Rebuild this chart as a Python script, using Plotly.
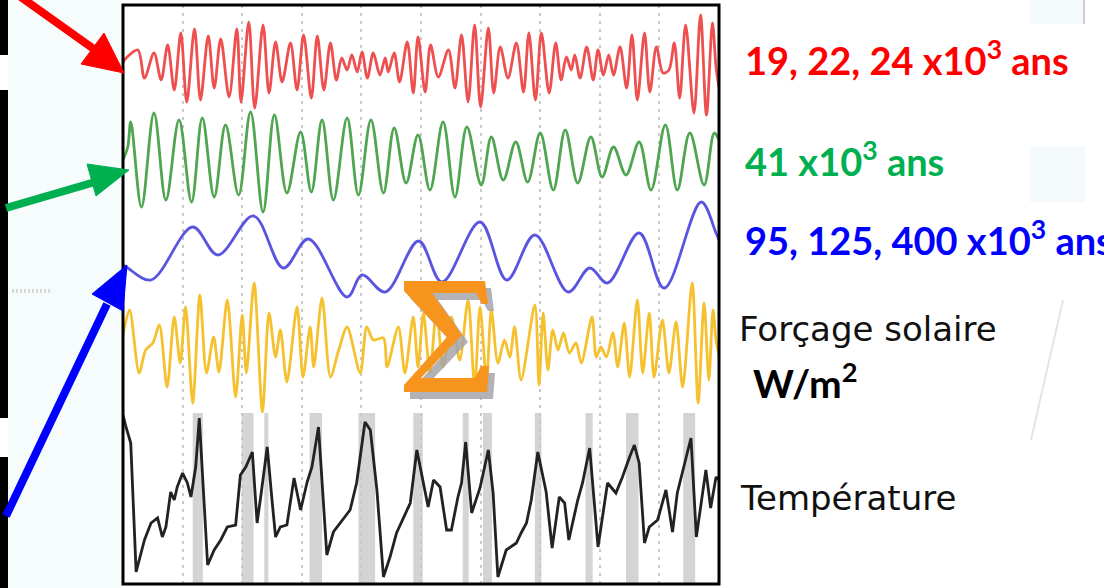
import plotly.graph_objects as go

# ---------------- data (time in kyr, values = anomalies in display units) ----------------
# Precession band (19, 22, 24 kyr)
prec_t = [0, 7, 25, 36, 52, 64, 75, 86, 97, 107, 120, 130, 143, 153, 164, 178, 191, 198, 211, 221,
          235, 245, 256, 267, 281, 292, 303, 316, 326, 337, 348, 358, 367, 376, 384, 393, 401, 410,
          420, 431, 440, 445, 455, 464, 477, 487, 495, 507, 516, 529, 546, 557, 568, 579, 590, 600,
          613, 622, 633, 646, 660, 672, 681, 692, 702, 715, 726, 735, 744, 752, 758, 767, 778, 789,
          797, 806, 815, 823, 834, 845, 854, 863, 875, 884, 895, 906, 916, 925, 934, 944, 958, 969,
          979, 989, 995, 1000]
prec_v = [0, 5, 12, -16, 9, -18, 17, -28, 29, -40, 33, -38, 26, -26, 23, -35, 33, -40, 40, -46,
          37, -31, 20, -20, 19, -28, 27, -36, 26, -28, 19, -18, 4, -8, 7, -10, 10, -16,
          9, -13, 4, -10, 9, -20, 20, -31, 25, -30, 17, -15, 12, -26, 27, -40, 37, -45,
          34, -31, 15, -16, 19, -30, 29, -38, 29, -31, 19, -18, 5, -8, 7, -16, 15, -18,
          12, -13, 7, -13, 15, -26, 27, -38, 29, -30, 15, -11, -8, 19, -36, 37, -51, 47,
          -53, 39, -5, -25]

# Obliquity (41 kyr)
obl_t = [0, 8, 13, 31, 52, 72, 94, 115, 133, 153, 172, 194, 214, 235, 254, 275, 298, 316, 334, 353,
         376, 395, 416, 437, 455, 475, 495, 515, 537, 557, 577, 601, 618, 638, 659, 679, 700, 722,
         742, 763, 785, 804, 823, 844, 866, 886, 910, 930, 951, 975, 992, 1000]
obl_v = [0, 13, 38, -47, 47, -40, 40, -42, 42, -37, 35, -35, 48, -52, 45, -33, 28, -32, 40, -40,
         42, -35, 40, -33, 32, -23, 25, -30, 38, -37, 33, -25, 23, -20, 18, -22, 27, -30,
         30, -23, 23, -17, 13, -15, 18, -30, 35, -30, 27, -25, 27, 20]

# Eccentricity (95, 125, 400 kyr)
ecc_t = [0, 8, 47, 117, 159, 219, 269, 311, 376, 401, 440, 496, 535, 599, 644, 691, 747, 783, 813,
         866, 908, 970, 995, 1000]
ecc_v = [-10, -13, -25, 28, 0, 39, -13, 16, -42, -20, -37, 14, -27, 33, -25, 20, -37, -13, -28,
         22, -33, 53, 22, 15]

# Solar forcing (sum)
sol_t = [0, 11, 27, 38, 50, 61, 74, 86, 96, 105, 117, 129, 140, 152, 161, 175, 189, 200, 207, 220,
         234, 245, 256, 264, 275, 292, 302, 314, 320, 334, 348, 362, 376, 398, 409, 420, 437, 443,
         462, 473, 487, 495, 504, 515, 526, 537, 551, 565, 579, 590, 599, 610, 618, 629, 640, 649,
         657, 668, 691, 698, 705, 713, 721, 730, 739, 749, 760, 769, 787, 794, 802, 811, 822, 830,
         841, 850, 863, 872, 883, 891, 905, 916, 928, 939, 955, 965, 975, 983, 990, 995, 1000]
sol_v = [10, 35, -28, -5, 2, 20, -42, 28, -18, 38, -58, 50, -28, 8, -27, 45, -52, 30, -28, 62,
         -67, 32, -12, 15, -37, 38, -32, 18, -22, 47, -32, -5, 18, -28, 18, 5, 7, -22,
         18, -28, 28, -22, 32, -28, 35, -22, 28, -15, 45, -42, 38, -35, 35, -18, 5, -12,
         18, -35, 40, -40, 32, -25, 15, -5, 12, -8, 2, -18, 28, -12, -2, -12, 12, -22,
         22, -32, 45, -28, 32, -32, 25, -28, 23, -42, 62, -58, 42, -35, 35, 5, -10]

# Temperature
temp_t = [0, 5, 13, 22, 36, 47, 58, 66, 72, 80, 86, 91, 100, 108, 114, 122, 128, 142, 153, 164,
          175, 189, 197, 206, 217, 225, 231, 242, 250, 256, 264, 275, 287, 298, 309, 317, 328, 342,
          353, 365, 381, 392, 406, 415, 426, 437, 448, 459, 471, 482, 493, 501, 512, 521, 532, 543,
          551, 562, 568, 575, 585, 599, 613, 621, 629, 643, 660, 668, 677, 685, 696, 710, 720, 732,
          741, 748, 763, 771, 783, 797, 813, 827, 838, 850, 858, 866, 875, 883, 897, 911, 922, 930,
          942, 953, 962, 978, 986, 995, 1000]
temp_v = [85, 73, 57, -72, -40, -23, -18, -37, -27, 8, 0, 13, 27, 17, 3, 33, 82, -65, -50, -40,
          -27, -25, 25, 33, 48, -23, 3, 53, 0, -37, -27, -25, 22, -10, 18, 33, 73, -55,
          -32, -23, -10, 17, 78, 70, 10, -77, -57, -33, -17, -3, 50, 27, -7, 20, 13, -30,
          -30, 3, 17, 58, -13, 12, 50, 7, -77, -50, -43, -33, -23, 0, 48, 8, -48, 3,
          -3, -40, 0, 17, 52, -47, 17, 7, 23, 43, 55, 37, -43, -27, -20, 10, -32, 7,
          37, 62, -37, 30, -8, 23, 20]

# Shaded intervals in the temperature panel (kyr)
band_start = [117, 199, 237, 313, 395, 487, 570, 604, 691, 776, 844, 940]
band_end = [134, 219, 244, 334, 423, 503, 580, 619, 702, 788, 865, 960]

# Labels
lab_prec = "19, 22, 24 x10<sup>3</sup> ans"
lab_obl = "41 x10<sup>3</sup> ans"
lab_ecc = "95, 125, 400 x10<sup>3</sup> ans"
lab_sol = "Forçage solaire"
lab_unit = "W/m<sup>2</sup>"
lab_temp = "Température"

# ---------------- layout helpers ----------------
W, H = 1104, 588
L, R, T, B = 123, 719, 5, 584      # plot box (pixels)
YSPAN = B - T


def px(x):
    return (x - L) / (R - L)


def py(y):
    return (B - y) / (B - T)


def path(points):
    s = "M " + " L ".join(f"{px(x):.5f},{py(y):.5f}" for x, y in points) + " Z"
    return s


# vertical offsets of the stacked curves (display units, 0 = bottom of box)
OFF_PREC, OFF_OBL, OFF_ECC, OFF_SOL, OFF_TEMP = 522, 424, 329, 239, 84
BAND_TOP = 171

fig = go.Figure()

fig.add_trace(go.Scatter(x=prec_t, y=[OFF_PREC + v for v in prec_v], mode="lines",
                         line=dict(color="#ee5050", width=2.8, shape="spline", smoothing=0.9),
                         hoverinfo="skip"))
fig.add_trace(go.Scatter(x=obl_t, y=[OFF_OBL + v for v in obl_v], mode="lines",
                         line=dict(color="#4fa550", width=2.8, shape="spline", smoothing=1.0),
                         hoverinfo="skip"))
fig.add_trace(go.Scatter(x=ecc_t, y=[OFF_ECC + v for v in ecc_v], mode="lines",
                         line=dict(color="#5a55e0", width=2.8, shape="spline", smoothing=1.0),
                         hoverinfo="skip"))
fig.add_trace(go.Scatter(x=sol_t, y=[OFF_SOL + v for v in sol_v], mode="lines",
                         line=dict(color="#f5c12e", width=2.8, shape="spline", smoothing=0.8),
                         hoverinfo="skip"))
fig.add_trace(go.Scatter(x=temp_t, y=[OFF_TEMP + v for v in temp_v], mode="lines",
                         line=dict(color="#222222", width=2.8),
                         hoverinfo="skip"))

shapes = []
for a, b in zip(band_start, band_end):
    shapes.append(dict(type="rect", xref="x", yref="y", x0=a, x1=b, y0=0, y1=BAND_TOP,
                       fillcolor="rgba(205,205,205,0.85)", line=dict(width=0), layer="below"))

# plot box
shapes.append(dict(type="rect", xref="paper", yref="paper", x0=0, x1=1, y0=0, y1=1,
                   line=dict(color="black", width=3), layer="above"))

# left background and black bars
shapes.append(dict(type="rect", xref="paper", yref="paper", x0=px(8), x1=px(121.5), y0=py(588), y1=py(0),
                   fillcolor="#f6fbfc", line=dict(width=0), layer="below"))
for y0, y1 in [(0, 55), (90, 418), (457, 588)]:
    shapes.append(dict(type="rect", xref="paper", yref="paper", x0=px(0), x1=px(8), y0=py(y1), y1=py(y0),
                       fillcolor="black", line=dict(width=0), layer="above"))
shapes.append(dict(type="line", xref="paper", yref="paper", x0=px(12), x1=px(52), y0=py(291), y1=py(291),
                   line=dict(color="#d8d8d8", width=4, dash="2px,2px"), layer="above"))

# faint elements on the right
shapes.append(dict(type="rect", xref="paper", yref="paper", x0=px(1030), x1=px(1084), y0=py(24), y1=py(0),
                   fillcolor="#f4fafc", line=dict(width=0), layer="below"))
shapes.append(dict(type="line", xref="paper", yref="paper", x0=px(1084), x1=px(1084), y0=py(24), y1=py(0),
                   line=dict(color="#cfcfcf", width=2), layer="above"))
shapes.append(dict(type="rect", xref="paper", yref="paper", x0=px(1030), x1=px(1085), y0=py(202), y1=py(146),
                   fillcolor="#f4fafc", line=dict(width=0), layer="below"))
shapes.append(dict(type="line", xref="paper", yref="paper", x0=px(1063), x1=px(1031), y0=py(300), y1=py(440),
                   line=dict(color="#e4e4e4", width=2), layer="above"))

# arrows
arrows = [
    ("#ff0000", (18, -5), (98, 52), [(124, 73), (81, 64), (104, 33)]),
    ("#00b050", (6, 208), (95, 182), [(129, 170), (87, 164), (96, 196)]),
    ("#0000ff", (6, 516), (107, 304), [(127, 265), (92, 294), (123, 311)]),
]
for col, p0, p1, head in arrows:
    shapes.append(dict(type="line", xref="paper", yref="paper", x0=px(p0[0]), y0=py(p0[1]),
                       x1=px(p1[0]), y1=py(p1[1]), line=dict(color=col, width=8), layer="above"))
    shapes.append(dict(type="path", xref="paper", yref="paper", path=path(head),
                       fillcolor=col, line=dict(color=col, width=1), layer="above"))

# sigma glyph with shadow
sigma = [(404, 281), (485, 281), (488, 304), (482, 304), (476, 293), (432, 293), (462, 335),
         (421, 378), (475, 378), (481, 366), (489, 366), (487, 392), (404, 392), (404, 385),
         (447, 337), (404, 291)]
shadow = [(x + 6, y + 7) for x, y in sigma]
shapes.append(dict(type="path", xref="paper", yref="paper", path=path(shadow),
                   fillcolor="rgba(165,165,170,0.85)", line=dict(width=0), layer="above"))
shapes.append(dict(type="path", xref="paper", yref="paper", path=path(sigma),
                   fillcolor="#f7941e", line=dict(width=0), layer="above"))

annotations = []


def label(text, x, y, color, size, family, bold=False):
    t = f"<b>{text}</b>" if bold else text
    annotations.append(dict(text=t, x=px(x), y=py(y), xref="paper", yref="paper",
                            xanchor="left", yanchor="middle", showarrow=False,
                            font=dict(color=color, size=size, family=family)))


label(lab_prec, 743, 58, "#ff0000", 38, "Lato", True)
label(lab_obl, 743, 159, "#00b050", 38, "Lato", True)
label(lab_ecc, 743, 238, "#0000ff", 38, "Lato", True)
label(lab_sol, 737, 329, "#111111", 34, "DejaVu Sans")
label(lab_unit, 751, 381, "#000000", 39, "Lato", True)
label(lab_temp, 738, 498, "#111111", 34, "DejaVu Sans")

fig.update_layout(
    width=W, height=H,
    margin=dict(l=L, r=W - R, t=T, b=H - B, pad=0),
    paper_bgcolor="white", plot_bgcolor="white",
    showlegend=False,
    shapes=shapes, annotations=annotations,
    xaxis=dict(range=[0, 1000], dtick=100, tick0=0, showgrid=True, gridcolor="#c8c8c8",
               gridwidth=1.5, griddash="3px,5px", zeroline=False, showticklabels=False,
               ticks="", showline=False, fixedrange=True),
    yaxis=dict(range=[0, YSPAN], showgrid=False, zeroline=False, showticklabels=False,
               ticks="", showline=False, fixedrange=True),
)

fig.write_html("out.html", config={"displayModeBar": False})
